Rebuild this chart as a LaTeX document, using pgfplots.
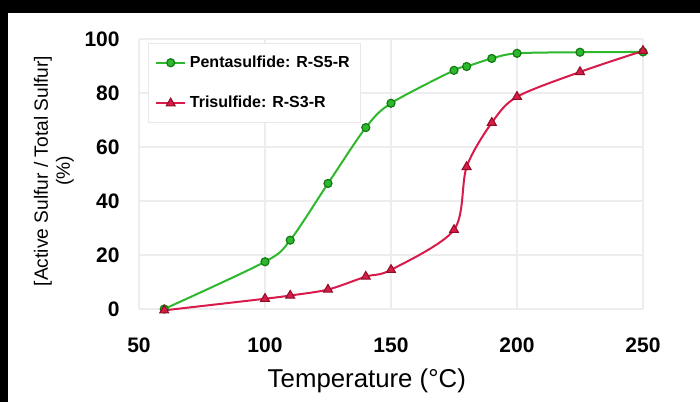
\documentclass[border=0pt]{standalone}
\usepackage{fontspec}
\setmainfont{Liberation Sans}
\usepackage{pgfplots}
\pgfplotsset{compat=1.18}
\definecolor{pentagreen}{HTML}{2DB82D}
\definecolor{pentaedge}{HTML}{127A12}
\definecolor{trired}{HTML}{D81B4A}
\definecolor{triedge}{HTML}{8E0F24}

\begin{document}
\begin{tikzpicture}
% frame of the original picture: black band on top and left
\useasboundingbox (0,0) rectangle (350pt,201pt);
\fill[black] (0,0) rectangle (350pt,201pt);
\fill[white] (4pt,0) rectangle (350pt,194.5pt);

\begin{axis}[
  at={(69.5pt,46.5pt)}, anchor=south west,
  scale only axis,
  width=252pt, height=135pt,
  xmin=50, xmax=250, ymin=0, ymax=100,
  xtick={50,100,...,250},
  ytick={0,20,...,100},
  grid=major,
  major grid style={gray!14, line width=0.6pt},
  axis line style={draw=none},
  major tick length=0pt,
  /pgf/number format/assume math mode=true,
  ticklabel style={font=\fontsize{10.5}{12}\selectfont\bfseries, inner sep=0pt},
  xticklabel style={anchor=north, yshift=-14pt},
  yticklabel style={anchor=east, xshift=-9.5pt},
  xlabel={Temperature (°C)},
  xlabel style={at={(axis description cs:0.452,-0.267)}, anchor=center,
    font=\fontsize{12.9}{15}\selectfont},
  ylabel={[Active Sulfur / Total Sulfur]\\(\%)},
  ylabel style={at={(axis description cs:-0.169,0.511)}, anchor=center,
    align=center, font=\fontsize{9.6}{11}\selectfont},
  clip=false,
  legend cell align=left,
  legend style={at={(axis description cs:0.018,0.985)}, anchor=north west,
    draw=gray!18, font=\fontsize{8}{9.6}\selectfont\bfseries,
    row sep=9pt, inner xsep=3.5pt, inner ysep=4pt},
  legend image code/.code={
    \draw[mark repeat=2, mark phase=2] plot coordinates {(0cm,0cm) (0.25cm,0cm) (0.5cm,0cm)};
  },
]

\addplot[smooth, color=pentagreen, line width=1pt,
  mark=*, mark size=2pt, mark options={fill=pentagreen, draw=pentaedge, line width=0.6pt}]
  coordinates {
  (60,0) (100,17.5) (110,25.5) (125,46.5) (140,67.2) (150,76.2)
  (175,88.4) (180,89.8) (190,92.8) (200,94.7) (225,95.1) (250,95.2)
};
\addlegendentry{Pentasulfide: R-S5-R}

\addplot[smooth, color=trired, line width=1pt,
  mark=triangle*, mark size=2.6pt, mark options={fill=trired, draw=triedge, line width=0.5pt}]
  coordinates {
  (60,-0.5) (100,3.8) (110,5.0) (125,7.2) (140,12.0) (150,14.5)
  (175,29.3) (180,52.6) (190,69.0) (200,78.6) (225,87.8) (250,95.6)
};
\addlegendentry{Trisulfide: R-S3-R}

\end{axis}
\end{tikzpicture}
\end{document}
